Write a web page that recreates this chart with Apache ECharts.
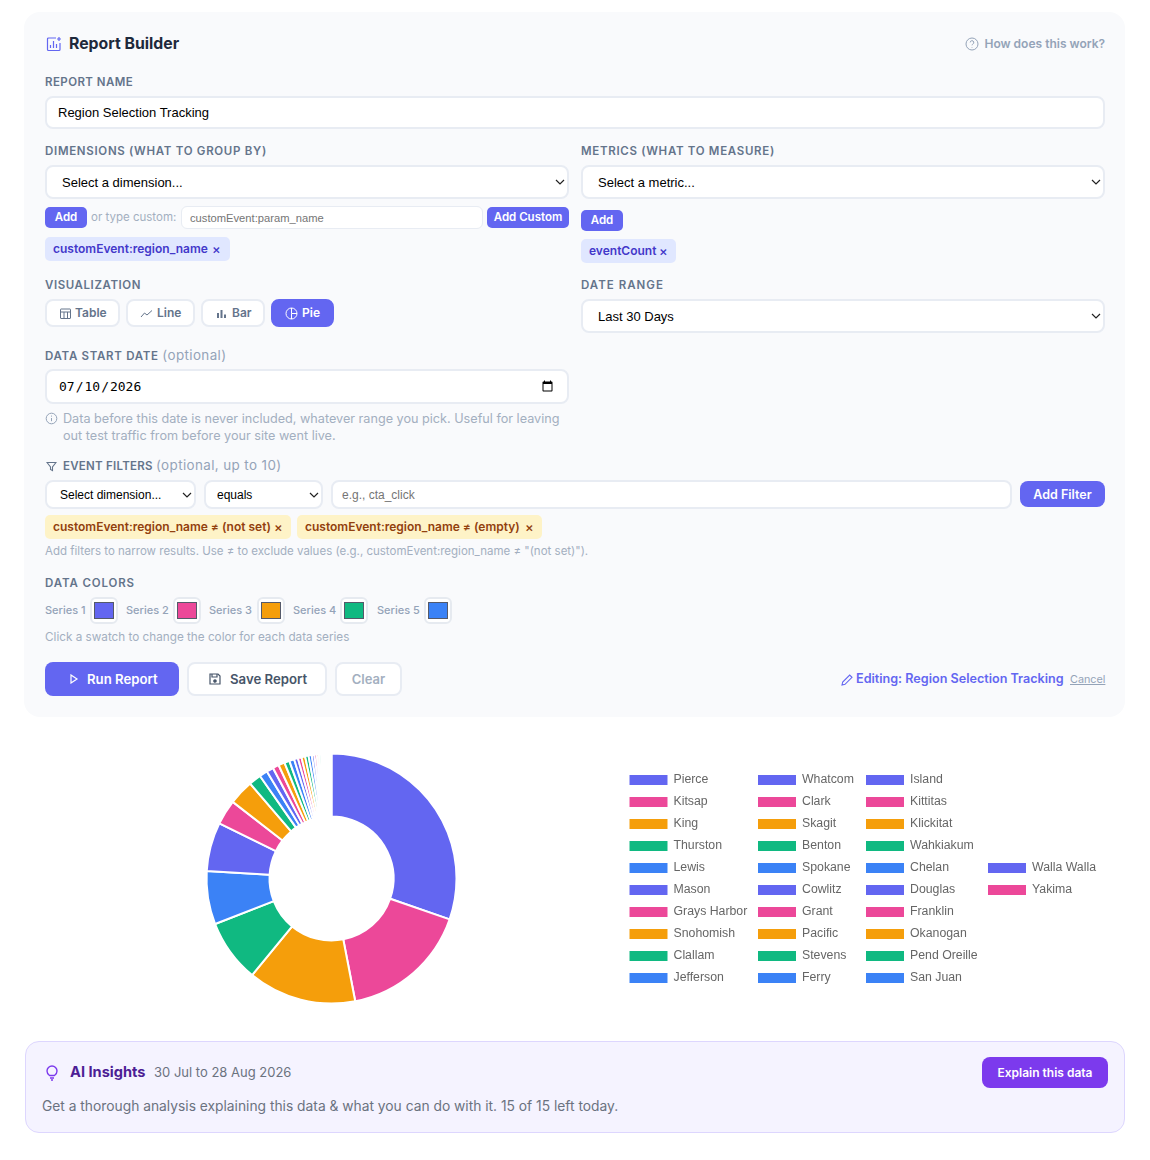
<!DOCTYPE html>
<html>
<head>
<meta charset="utf-8">
<title>Report Builder</title>
<script src="https://cdn.jsdelivr.net/npm/echarts@6/dist/echarts.min.js"></script>
<style>
  html, body { margin: 0; background: #fff; }
  body { position: relative; width: 1150px; height: 1160px; overflow: hidden; font-family: Inter, sans-serif; }
  .a { position: absolute; white-space: nowrap; box-sizing: border-box; }
  .t { height: 20px; line-height: 20px; }
  .lbl { font-size: 11.5px; font-weight: 600; letter-spacing: 0.6px; color: #64748b; }
  .lbl span { font-weight: 400; font-size: 13.4px; color: #94a3b8; letter-spacing: 0.4px; }
  .hint { font-size: 12.65px; color: #a3afc0; }
  .field { background: #fff; border: 2px solid #e8ecf3; border-radius: 8px; font-family: "Liberation Sans", sans-serif; font-size: 13px; color: #000; outline: none; }
  select.field { -webkit-appearance: none; appearance: none; padding-left: 15px;
    background: #fff url("data:image/svg+xml,%3Csvg xmlns='http://www.w3.org/2000/svg' width='10' height='6'%3E%3Cpath d='M1 1l4 4 4-4' fill='none' stroke='%23222' stroke-width='1.2'/%3E%3C/svg%3E") no-repeat right 2px center; }
  select.small { font-size: 12px; }
  .btn { background: #6366f1; color: #fff; border-radius: 5px; font-size: 11.5px; font-weight: 600; text-align: center; }
  .chip { border-radius: 5px; font-size: 12px; font-weight: 600; line-height: 24px; height: 24px; padding-left: 8px; }
  .chip.ind { background: #e0e7ff; color: #4338ca; }
  .chip.yel { background: #fef3c7; color: #92400e; }
  .chip i { position: absolute; font-style: normal; font-weight: 500; font-size: 13px; }
  .viz { background: #fff; border: 2px solid #e8ecf3; border-radius: 8px; color: #64748b; font-size: 12px; font-weight: 600; height: 28px; line-height: 24px; }
  .viz svg { position: absolute; top: 6px; }
  .viz span { position: absolute; top: 0; }
  .ser { font-size: 11px; font-weight: 500; color: #94a3b8; }
  .sw { width: 28px; height: 27px; top: 597px; background: #fff; border: 2px solid #e6eaf0; border-radius: 6px; }
  .sw b { position: absolute; left: 2px; top: 3px; width: 20px; height: 17px; box-sizing: border-box; border: 1px solid #555a6a; }
</style>
</head>
<body>
<div class="a" style="left:24px;top:12px;width:1101px;height:705px;background:#f9fafc;border-radius:16px"></div>

<svg class="a" style="left:46px;top:36px" width="16" height="16" viewBox="0 0 16 16" fill="none" stroke="#6366f1" stroke-width="1.2"><path d="M10 2H2.500a1 1 0 0 0-1 1v10.500a1 1 0 0 0 1 1H13a1 1 0 0 0 1-1V7"/><path d="M4.500 12V9M7.500 12V5M10.500 12V8"/><path d="M13 1v4M11 3h4"/></svg>
<div class="a t" style="left:69px;top:34px;font-size:15.8px;font-weight:700;color:#1e293b">Report Builder</div>
<svg class="a" style="left:965px;top:37px" width="14" height="14" viewBox="0 0 14 14" fill="none" stroke="#94a3b8" stroke-width="1"><circle cx="7" cy="7" r="6"/><path d="M5.200 5.400a1.800 1.800 0 1 1 2.600 1.700c-.6.3-.8.7-.8 1.200M7 10v.6"/></svg>
<div class="a t" style="right:45px;top:34px;font-size:12px;font-weight:600;color:#94a3b8">How does this work?</div>

<div class="a t lbl" style="left:45px;top:72px;letter-spacing:.43px">REPORT NAME</div>
<input class="a field" style="left:45px;top:96px;width:1060px;height:33px;padding-left:11px" value="Region Selection Tracking">

<div class="a t lbl" style="left:45px;top:141px;letter-spacing:.7px">DIMENSIONS (WHAT TO GROUP BY)</div>
<select class="a field" style="left:45px;top:165px;width:524px;height:34px"><option>Select a dimension...</option></select>
<div class="a t btn" style="left:45px;top:207px;width:42px;height:21px;line-height:20px">Add</div>
<div class="a t" style="left:91px;top:207px;font-size:11.5px;color:#a3afc0">or type custom:</div>
<input class="a field" style="left:181px;top:206px;width:302px;height:23px;border-width:1.5px;border-radius:6px;font-size:11.2px;padding-left:8px" placeholder="customEvent:param_name">
<div class="a t btn" style="left:487px;top:207px;width:82px;height:21px;line-height:20px">Add Custom</div>
<div class="a chip ind" style="left:45px;top:237px;width:185px">customEvent:region_name<i style="left:167px">×</i></div>

<div class="a t lbl" style="left:581px;top:141px;letter-spacing:.69px">METRICS (WHAT TO MEASURE)</div>
<select class="a field" style="left:581px;top:165px;width:524px;height:34px"><option>Select a metric...</option></select>
<div class="a t btn" style="left:581px;top:210px;width:42px;height:21px;line-height:20px">Add</div>
<div class="a chip ind" style="left:581px;top:239px;width:95px">eventCount<i style="left:78px">×</i></div>

<div class="a t lbl" style="left:45px;top:275px;letter-spacing:.58px">VISUALIZATION</div>
<div class="a viz" style="left:45px;top:299px;width:75px"><svg style="left:12px" width="13" height="13" viewBox="0 0 13 13" fill="none" stroke="#64748b"><rect x="1.500" y="2" width="10" height="9.500" rx=".5"/><path d="M1.500 5h10M5 5v6.500M8.500 5v6.500"/></svg><span style="left:28px">Table</span></div>
<div class="a viz" style="left:126px;top:299px;width:69px"><svg style="left:12px" width="13" height="13" viewBox="0 0 13 13" fill="none" stroke="#64748b"><path d="M1 10l3.500-4 2.500 2 5-4.500"/></svg><span style="left:29px">Line</span></div>
<div class="a viz" style="left:201px;top:299px;width:64px"><svg style="left:12px" width="13" height="13" viewBox="0 0 13 13" fill="#64748b"><rect x="2" y="6" width="2" height="5"/><rect x="5.500" y="3" width="2" height="8"/><rect x="9" y="7.500" width="2" height="3.500"/></svg><span style="left:29px">Bar</span></div>
<div class="a viz" style="left:271px;top:299px;width:63px;background:#6366f1;border-color:#6366f1;color:#fff"><svg style="left:12px" width="13" height="13" viewBox="0 0 13 13" fill="none" stroke="#fff"><circle cx="6.500" cy="6.500" r="5.500"/><path d="M6.500 1v5.500H12M6.500 6.500V12"/></svg><span style="left:29px">Pie</span></div>

<div class="a t lbl" style="left:581px;top:275px;letter-spacing:1px">DATE RANGE</div>
<select class="a field" style="left:581px;top:299px;width:524px;height:34px"><option>Last 30 Days</option></select>

<div class="a t lbl" style="left:45px;top:345px;letter-spacing:.7px">DATA START DATE <span>(optional)</span></div>
<input class="a field" type="date" value="2026-07-10" style="left:45px;top:369px;width:524px;height:35px;padding:0 11px;font-family:'DejaVu Sans Mono',monospace;font-size:13px">
<svg class="a" style="left:45px;top:412px" width="13" height="13" viewBox="0 0 13 13" fill="none" stroke="#94a3b8"><circle cx="6.500" cy="6.500" r="5.300"/><path d="M6.500 6v3.200M6.500 3.600v1"/></svg>
<div class="a t hint" style="left:63px;top:409px">Data before this date is never included, whatever range you pick. Useful for leaving</div>
<div class="a t hint" style="left:63px;top:426px">out test traffic from before your site went live.</div>

<svg class="a" style="left:46px;top:461px" width="11" height="11" viewBox="0 0 11 11" fill="none" stroke="#64748b" stroke-width="1.100"><path d="M1 1.500h9L6.500 6v3.500L4.500 8.500V6z"/></svg>
<div class="a t lbl" style="left:63px;top:455px;letter-spacing:.26px">EVENT FILTERS <span>(optional, up to 10)</span></div>
<select class="a field small" style="left:45px;top:480px;width:151px;height:29px;padding-left:13px"><option>Select dimension...</option></select>
<select class="a field small" style="left:204px;top:480px;width:119px;height:29px;padding-left:11px"><option>equals</option></select>
<input class="a field" style="left:331px;top:480px;width:681px;height:29px;font-size:12px;padding-left:9px" placeholder="e.g., cta_click">
<div class="a t btn" style="left:1020px;top:481px;width:85px;height:26px;line-height:27px;border-radius:8px;font-size:12.5px">Add Filter</div>
<div class="a chip yel" style="left:45px;top:515px;width:246px">customEvent:region_name ≠ (not set)<i style="left:229px">×</i></div>
<div class="a chip yel" style="left:297px;top:515px;width:245px">customEvent:region_name ≠ (empty)<i style="left:228px">×</i></div>
<div class="a t hint" style="left:45px;top:541px;font-size:11.5px">Add filters to narrow results. Use ≠ to exclude values (e.g., customEvent:region_name ≠ "(not set)").</div>

<div class="a t lbl" style="left:45px;top:573px;letter-spacing:.87px">DATA COLORS</div>
<div class="a t ser" style="left:45px;top:600px">Series 1</div><div class="a sw" style="left:90px"><b style="background:#6366f1"></b></div>
<div class="a t ser" style="left:126px;top:600px">Series 2</div><div class="a sw" style="left:173px"><b style="background:#ec4899"></b></div>
<div class="a t ser" style="left:209px;top:600px">Series 3</div><div class="a sw" style="left:257px"><b style="background:#f59e0b"></b></div>
<div class="a t ser" style="left:293px;top:600px">Series 4</div><div class="a sw" style="left:340px"><b style="background:#10b981"></b></div>
<div class="a t ser" style="left:377px;top:600px">Series 5</div><div class="a sw" style="left:424px"><b style="background:#3b82f6"></b></div>
<div class="a t hint" style="left:45px;top:627px;font-size:11.73px">Click a swatch to change the color for each data series</div>

<div class="a" style="left:45px;top:662px;width:134px;height:34px;background:#6366f1;border-radius:8px"></div>
<svg class="a" style="left:69px;top:674px" width="10" height="10" viewBox="0 0 10 10" fill="none" stroke="#fff" stroke-width="1.200"><path d="M2 1l6 4-6 4z"/></svg>
<div class="a t" style="left:87px;top:669px;font-size:13.2px;font-weight:600;color:#fff">Run Report</div>
<div class="a" style="left:187px;top:662px;width:140px;height:34px;background:#fff;border:2px solid #e8ecf3;border-radius:8px"></div>
<svg class="a" style="left:209px;top:673px" width="12" height="12" viewBox="0 0 12 12" fill="none" stroke="#475569" stroke-width="1.200"><path d="M1 1h8l2 2v8H1z"/><path d="M3 1v3h5V1"/><circle cx="6" cy="8" r="1.200" fill="#475569"/></svg>
<div class="a t" style="left:230px;top:669px;font-size:13.2px;font-weight:600;color:#475569">Save Report</div>
<div class="a t" style="left:335px;top:662px;width:67px;height:34px;line-height:30px;background:#fff;border:2px solid #e8ecf3;border-radius:8px;text-align:center;font-size:13px;font-weight:600;color:#a3afc0">Clear</div>

<svg class="a" style="left:841px;top:674px" width="12" height="12" viewBox="0 0 12 12" fill="none" stroke="#6366f1" stroke-width="1.100"><path d="M1 11l.7-3L8.700 1l2.300 2.300L4 10.300z"/></svg>
<div class="a t" style="left:856px;top:669px;font-size:12.6px;font-weight:600;color:#6366f1">Editing: Region Selection Tracking</div>
<div class="a t" style="left:1070px;top:670px;font-size:10.8px;color:#94a3b8;text-decoration:underline">Cancel</div>

<div id="pieChart" class="a" style="left:0;top:730px;width:1150px;height:300px"></div>

<div class="a" style="left:25px;top:1041px;width:1100px;height:92px;background:#f5f3ff;border:1px solid #ddd6fe;border-radius:14px"></div>
<svg class="a" style="left:45px;top:1064px" width="14" height="17" viewBox="0 0 14 17" fill="none" stroke="#7c3aed" stroke-width="1.400"><path d="M4.500 11.500C3 10.500 2 9 2 7a5 5 0 0 1 10 0c0 2-1 3.500-2.500 4.500z"/><path d="M5 14h4M6 16h2"/></svg>
<div class="a t" style="left:70px;top:1062px;font-size:14.6px;font-weight:700;color:#4c1d95">AI Insights</div>
<div class="a t" style="left:154px;top:1062px;font-size:13px;color:#6b7280">30 Jul to 28 Aug 2026</div>
<div class="a t" style="left:42px;top:1096px;font-size:13.8px;color:#6b7280">Get a thorough analysis explaining this data &amp; what you can do with it. 15 of 15 left today.</div>
<div class="a t" style="left:982px;top:1057px;width:126px;height:31px;line-height:31px;background:#7c3aed;border-radius:8px;text-align:center;font-size:12px;font-weight:600;color:#fff">Explain this data</div>

<script>
// Regions in the order the pie draws them
var regions = ['Pierce', 'Kitsap', 'King', 'Thurston', 'Lewis', 'Mason', 'Grays Harbor', 'Snohomish', 'Clallam', 'Jefferson',
    'Whatcom', 'Clark', 'Skagit', 'Benton', 'Spokane', 'Cowlitz', 'Grant', 'Pacific', 'Stevens', 'Ferry',
    'Island', 'Kittitas', 'Klickitat', 'Wahkiakum', 'Chelan', 'Douglas', 'Franklin', 'Okanogan', 'Pend Oreille', 'San Juan',
    'Walla Walla', 'Yakima'];

// Event counts
var eventCounts = [1091, 600, 504, 292, 248, 228, 116, 116, 57, 38,
    32, 29, 29, 24, 23, 18, 17, 17, 16, 15,
    12, 11, 10, 10, 7, 6, 6, 6, 6, 6,
    6, 5];

var seriesColors = ['#6366f1', '#ec4899', '#f59e0b', '#10b981', '#3b82f6'];

var pieChart = echarts.init(document.getElementById('pieChart'));

// One legend per column, the last column starts lower than the others
function legendFor(names, left, top) {
    return {
        type: 'plain',
        orient: 'vertical',
        left: left,
        top: top,
        itemWidth: 40,
        itemHeight: 12,
        itemGap: 8,
        icon: 'rect',
        data: names,
        textStyle: { color: '#666', fontSize: 12.3, fontFamily: '"Liberation Sans", sans-serif' }
    };
}

pieChart.setOption({
    animation: false,
    color: seriesColors,
    legend: [
        legendFor(regions.slice(0, 10), 622.5, 38),
        legendFor(regions.slice(10, 20), 751, 38),
        legendFor(regions.slice(20, 30), 859, 38),
        legendFor(regions.slice(30), 981, 126)
    ],
    series: [
        {
            name: 'eventCount',
            type: 'pie',
            center: [331.5, 148.5],
            radius: [62, 125],
            label: { show: false },
            labelLine: { show: false },
            itemStyle: { borderColor: '#fff', borderWidth: 2 },
            data: regions.map((name, i) => ({ name: name, value: eventCounts[i] }))
        }
    ]
});
</script>
</body>
</html>
